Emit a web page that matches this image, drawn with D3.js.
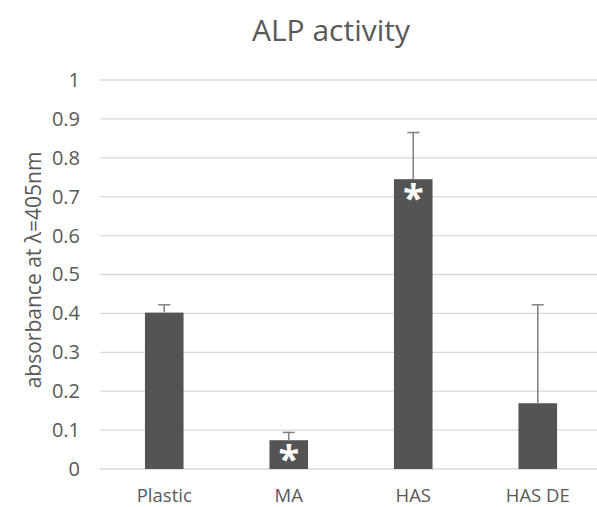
<!DOCTYPE html>
<html>
<head>
<meta charset="UTF-8">
<title>ALP activity</title>
<script src="https://cdn.jsdelivr.net/npm/d3@7"></script>
<style>
body { margin: 0; background: #fff; }
text { font-family: "Open Sans", "Noto Sans", sans-serif; fill: #595959; }
.ytick text { font-size: 20px; }
.xtick text { font-size: 18.5px; }
</style>
</head>
<body>
<div id="vis"></div>
<script>
// data
var groups = ["Plastic", "MA", "HAS", "HAS DE"];
var means = [0.402, 0.074, 0.745, 0.169];
var errors = [0.020, 0.020, 0.120, 0.253];
var stars = [false, true, true, false];
var yTicks = [0, 0.1, 0.2, 0.3, 0.4, 0.5, 0.6, 0.7, 0.8, 0.9, 1];

var width = 597, height = 507;
var svg = d3.select("#vis").append("svg")
  .attr("width", width)
  .attr("height", height);

var x = d3.scaleBand()
  .domain(groups)
  .range([102, 600])
  .paddingInner(0.69)
  .paddingOuter(0.345);

var y = d3.scaleLinear()
  .domain([0, 1])
  .range([469, 80]);

// gridlines
svg.append("g").selectAll("line")
  .data(yTicks)
  .enter().append("line")
  .attr("x1", 100)
  .attr("x2", width)
  .attr("y1", function(d) { return y(d); })
  .attr("y2", function(d) { return y(d); })
  .attr("stroke", "#d9d9d9")
  .attr("stroke-width", 1.3);

// y axis labels
var yAxis = d3.axisLeft(y)
  .tickValues(yTicks)
  .tickSize(0)
  .tickPadding(0)
  .tickFormat(function(d) { return d3.format("")(d); });

var yg = svg.append("g")
  .attr("class", "ytick")
  .attr("transform", "translate(80,0)")
  .call(yAxis);
yg.select(".domain").remove();
yg.attr("font-size", 20).attr("font-family", null);
yg.selectAll("text").attr("font-size", 20);

// x axis labels
var xg = svg.append("g")
  .attr("class", "xtick")
  .attr("transform", "translate(0,469)")
  .call(d3.axisBottom(x).tickSize(0).tickPadding(0));
xg.select(".domain").remove();
xg.attr("font-size", 18.5).attr("font-family", null);
xg.selectAll("text")
  .attr("dy", null)
  .attr("y", 33);

// bars
svg.append("g").selectAll("rect")
  .data(groups)
  .enter().append("rect")
  .attr("x", function(d) { return x(d); })
  .attr("y", function(d, i) { return y(means[i]); })
  .attr("width", x.bandwidth())
  .attr("height", function(d, i) { return y(0) - y(means[i]); })
  .attr("fill", "#545454");

// error bars (upper only)
var eb = svg.append("g").selectAll("g")
  .data(groups)
  .enter().append("g");
eb.append("line")
  .attr("x1", function(d) { return x(d) + x.bandwidth() / 2; })
  .attr("x2", function(d) { return x(d) + x.bandwidth() / 2; })
  .attr("y1", function(d, i) { return y(means[i]); })
  .attr("y2", function(d, i) { return y(means[i] + errors[i]); })
  .attr("stroke", "#7f7f7f")
  .attr("stroke-width", 1.5);
eb.append("line")
  .attr("x1", function(d) { return x(d) + x.bandwidth() / 2 - 6; })
  .attr("x2", function(d) { return x(d) + x.bandwidth() / 2 + 6; })
  .attr("y1", function(d, i) { return y(means[i] + errors[i]); })
  .attr("y2", function(d, i) { return y(means[i] + errors[i]); })
  .attr("stroke", "#7f7f7f")
  .attr("stroke-width", 1.5);

// significance stars
svg.append("g").selectAll("text")
  .data(groups.filter(function(d, i) { return stars[i]; }))
  .enter().append("text")
  .attr("x", function(d) { return x(d) + x.bandwidth() / 2; })
  .attr("y", function(d) { return y(means[groups.indexOf(d)]) + 33; })
  .attr("text-anchor", "middle")
  .style("font-size", "38px")
  .style("font-weight", "bold")
  .style("fill", "#fff")
  .text("*");

// title
svg.append("text")
  .attr("x", 331)
  .attr("y", 41)
  .attr("text-anchor", "middle")
  .style("font-size", "30px")
  .text("ALP activity");

// y label
svg.append("text")
  .attr("transform", "translate(41,270) rotate(-90)")
  .attr("text-anchor", "middle")
  .style("font-size", "21px")
  .text("absorbance at \u03bb=405nm");
</script>
</body>
</html>
